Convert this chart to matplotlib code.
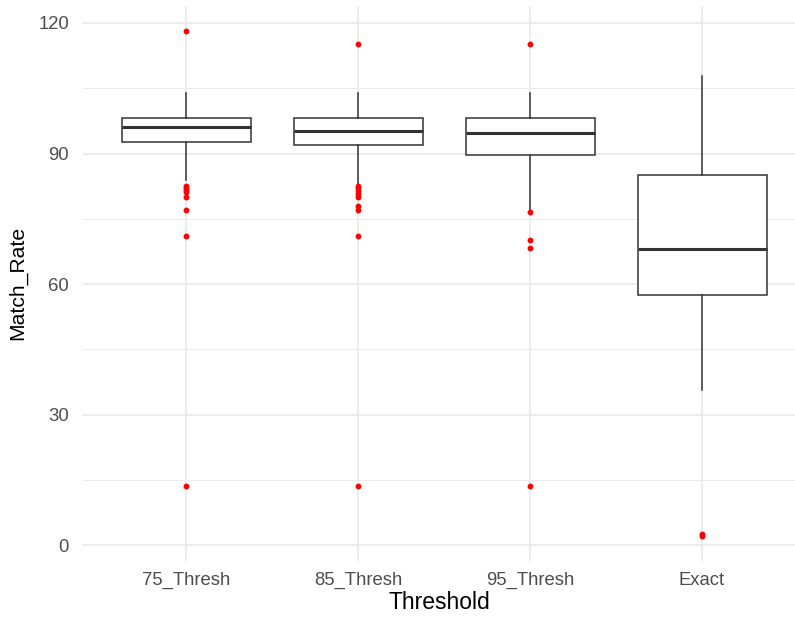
import numpy as np
import matplotlib.pyplot as plt

plt.rcParams['font.family'] = ['Liberation Sans', 'DejaVu Sans']

groups = ['75_Thresh', '85_Thresh', '95_Thresh', 'Exact']
medians = [96.1, 95.2, 94.6, 68.0]
q1 = [92.6, 92.0, 89.7, 57.4]
q3 = [98.2, 98.2, 98.2, 85.1]
whisk_lo = [83.9, 82.9, 77.0, 35.6]
whisk_hi = [104.0, 104.0, 104.0, 107.7]
outliers = [
    [118.2, 82.5, 82.1, 81.6, 81.1, 80.1, 77.0, 71.0, 13.6],
    [115.2, 82.5, 82.0, 81.4, 80.6, 80.1, 77.9, 77.0, 71.0, 13.6],
    [115.2, 76.6, 70.1, 68.4, 13.6],
    [2.7, 2.2],
]

stats = []
for i, g in enumerate(groups):
    stats.append(dict(label=g, med=medians[i], q1=q1[i], q3=q3[i],
                      whislo=whisk_lo[i], whishi=whisk_hi[i],
                      fliers=outliers[i]))

fig = plt.figure(figsize=(7.95, 6.18), dpi=100)
ax = fig.add_axes([83 / 795, 1 - 561 / 618, (795 - 83) / 795, (561 - 5.5) / 618])

line_col = '#333333'
pos = np.arange(1, len(groups) + 1)
ax.bxp(stats, positions=pos, widths=0.75, showcaps=False, patch_artist=True,
       boxprops=dict(facecolor='white', edgecolor=line_col, linewidth=1.1),
       whiskerprops=dict(color=line_col, linewidth=1.1),
       medianprops=dict(color=line_col, linewidth=2.2),
       flierprops=dict(marker='o', markerfacecolor='red', markeredgecolor='red',
                       markersize=3.2, linestyle='none'),
       zorder=3)

ax.set_xlim(0.4, 4 + (795 - 702) / 172)
ax.set_ylim(-3.6, 124)
ax.set_yticks([0, 30, 60, 90, 120])
ax.set_yticks([15, 45, 75, 105], minor=True)
ax.set_xticks(pos, groups)

ax.grid(True, which='major', color='#EBEBEB', linewidth=1.3, zorder=0)
ax.grid(True, which='minor', axis='y', color='#EBEBEB', linewidth=0.7, zorder=0)
ax.set_axisbelow(True)
for s in ax.spines.values():
    s.set_visible(False)
ax.tick_params(which='both', length=0)
ax.tick_params(axis='both', labelsize=13.3, labelcolor='#4D4D4D')
ax.tick_params(axis='x', pad=8)
ax.tick_params(axis='y', pad=10)

ax.set_xlabel('Threshold', fontsize=16.5, labelpad=1)
ax.set_ylabel('Match_Rate', fontsize=15.2, labelpad=8)

fig.savefig('out.png', dpi=100)
